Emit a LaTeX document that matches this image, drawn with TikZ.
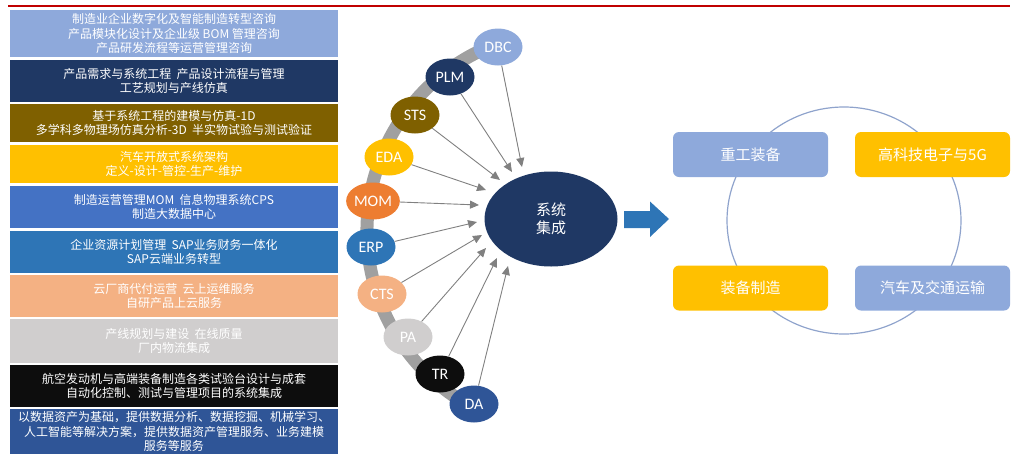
\documentclass[tikz,border=0pt]{standalone}
\usepackage{fontspec}
\setmainfont{Carlito}
\newfontfamily\cjk{Noto Sans CJK SC}
\usetikzlibrary{arrows.meta,shapes.geometric}
\definecolor{redline}{RGB}{192,0,0}
\definecolor{lblue}{RGB}{142,169,219}
\definecolor{navy}{RGB}{31,56,100}
\definecolor{olive}{RGB}{127,96,0}
\definecolor{gold}{RGB}{255,192,0}
\definecolor{mblue}{RGB}{68,114,196}
\definecolor{sblue}{RGB}{46,117,182}
\definecolor{salmon}{RGB}{244,177,131}
\definecolor{lgray}{RGB}{208,206,206}
\definecolor{nblack}{RGB}{13,13,13}
\definecolor{dblue}{RGB}{47,85,151}
\definecolor{orng}{RGB}{237,125,49}
\definecolor{band}{RGB}{160,160,160}
\definecolor{arrgray}{RGB}{128,128,128}
\definecolor{ring}{RGB}{143,163,204}
\begin{document}
\begin{tikzpicture}[x=1pt,y=-1pt,
  lbox/.style={rectangle, minimum width=328pt, inner sep=0pt, text=white, align=center,
    font=\cjk\fontsize{12}{14.5}\selectfont},
  sat/.style={ellipse, minimum width=49pt, minimum height=37pt, inner sep=0pt, text=white,
    font=\fontsize{16}{16}\selectfont},
  arr/.style={draw=arrgray, line width=0.9pt, -{Triangle[length=9pt,width=8pt]}},
  rbox/.style={rectangle, rounded corners=6pt, minimum width=155pt, minimum height=45pt,
    inner sep=0pt, text=white, font=\cjk\fontsize{15}{15}\selectfont}]
\useasboundingbox (0,0) rectangle (1018,453);
% top rule
\coordinate (rl) at (8,6);
\coordinate (rr) at (1010,6);
\draw[redline, line width=1.5pt] (rl) -- (rr);
% left column
\node[lbox, fill=lblue, minimum height=47pt] (b1) at (174,33.5) {制造业企业数字化及智能制造转型咨询\\产品模块化设计及企业级 BOM 管理咨询\\产品研发流程等运营管理咨询};
\node[lbox, fill=navy, minimum height=42pt] (b2) at (174,81) {产品需求与系统工程\ \ 产品设计流程与管理\\工艺规划与产线仿真};
\node[lbox, fill=olive, minimum height=38pt] (b3) at (174,123) {基于系统工程的建模与仿真-1D\\多学科多物理场仿真分析-3D\ \ 半实物试验与测试验证};
\node[lbox, fill=gold, minimum height=38pt] (b4) at (174,164) {汽车开放式系统架构\\定义-设计-管控-生产-维护};
\node[lbox, fill=mblue, minimum height=42pt] (b5) at (174,207) {制造运营管理MOM\ \ 信息物理系统CPS\\制造大数据中心};
\node[lbox, fill=sblue, minimum height=42pt] (b6) at (174,252) {企业资源计划管理\ \ SAP业务财务一体化\\SAP云端业务转型};
\node[lbox, fill=salmon, minimum height=42pt] (b7) at (174,296) {云厂商代付运营\ \ 云上运维服务\\自研产品上云服务};
\node[lbox, fill=lgray, minimum height=44pt] (b8) at (174,341) {产线规划与建设\ \ 在线质量\\厂内物流集成};
\node[lbox, fill=nblack, minimum height=42pt] (b9) at (174,386) {航空发动机与高端装备制造各类试验台设计与成套\\自动化控制、测试与管理项目的系统集成};
\node[lbox, fill=dblue, minimum height=52pt] (b10) at (174,434.5) {};
\node[lbox, font=\cjk\fontsize{12}{14.2}\selectfont] (b10t) at (174,431.5) {以数据资产为基础，提供数据分析、数据挖掘、机械学习、\\人工智能等解决方案，提供数据资产管理服务、业务建模\\服务等服务};
% arc band
\coordinate (arcC) at (567,231);
\draw[band, line width=13pt] (arcC) ++(-110.6:200) arc[start angle=-110.6, end angle=-241.7, radius=200];
% satellites
\node[sat, fill=lblue] (DBC) at (498,47) {DBC};
\node[sat, fill=navy] (PLM) at (450,77) {PLM};
\node[sat, fill=olive] (STS) at (415,115) {STS};
\node[sat, fill=gold] (EDA) at (389,157) {EDA};
\node[sat, fill=orng] (MOM) at (373,201) {MOM};
\node[sat, fill=sblue] (ERP) at (371,247) {ERP};
\node[sat, fill=salmon] (CTS) at (382,294) {CTS};
\node[sat, fill=lgray] (PA) at (408,337) {PA};
\node[sat, fill=nblack] (TR) at (440,374) {TR};
\node[sat, fill=dblue] (DA) at (474,404) {DA};
% center
\node[ellipse, fill=navy, minimum width=133pt, minimum height=95pt, inner sep=0pt, text=white, align=center,
  font=\cjk\fontsize{15}{18}\selectfont] (SI) at (551,219) {系统\\集成};
% arrow tips
\coordinate (tDBC) at (522,167);
\coordinate (tPLM) at (512,172);
\coordinate (tSTS) at (500,180);
\coordinate (tEDA) at (486,190);
\coordinate (tMOM) at (479,205);
\coordinate (tERP) at (477,222);
\coordinate (tCTS) at (482,235);
\coordinate (tPA) at (486,248);
\coordinate (tTR) at (497,258);
\coordinate (tDA) at (508,266);
\foreach \n in {DBC,PLM,STS,EDA,MOM,ERP,CTS,PA,TR,DA}
  \draw[arr] (\n) -- (t\n);
% block arrow
\fill[sblue] (624,211) -- (650,211) -- (650,201.5) -- (669,219) -- (650,237) -- (650,228) -- (624,228) -- cycle;
% right ring and boxes
\node[ellipse, draw=ring, line width=1.2pt, minimum width=234pt, minimum height=227pt, inner sep=0pt] (R) at (844,220.5) {};
\node[rbox, fill=lblue] (r1) at (750.5,154.5) {重工装备};
\node[rbox, fill=gold] (r2) at (932.5,154.5) {高科技电子与5G};
\node[rbox, fill=gold] (r3) at (750.5,288) {装备制造};
\node[rbox, fill=lblue] (r4) at (932.5,288) {汽车及交通运输};
\end{tikzpicture}
\end{document}
